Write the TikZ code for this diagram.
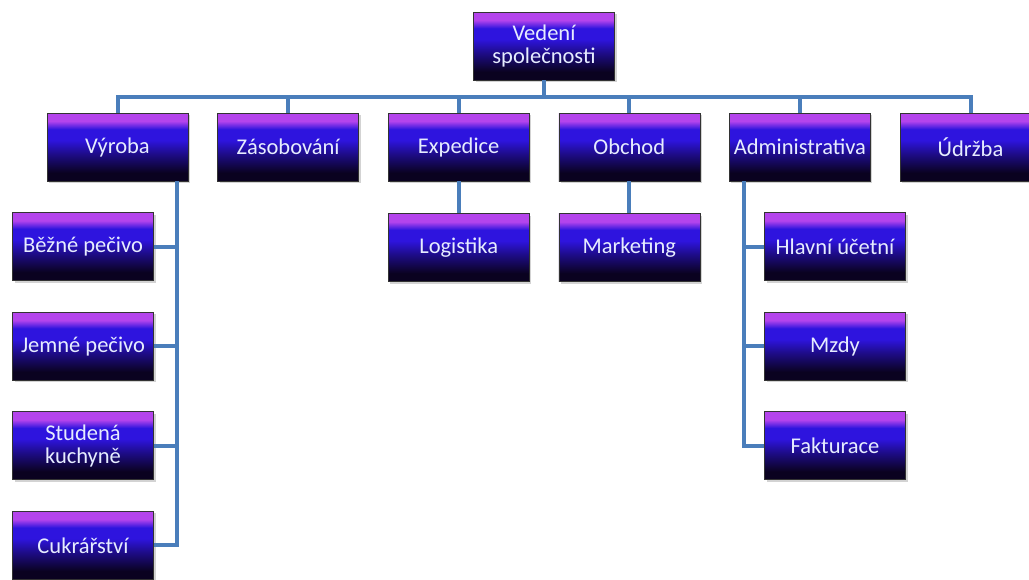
\documentclass[tikz,border=0pt]{standalone}
\usepackage{fontspec}
\setmainfont{Carlito}
\usetikzlibrary{positioning,shadows}
\definecolor{boxtop}{HTML}{B444EC}
\definecolor{boxmid}{HTML}{2E14DE}
\definecolor{boxbot}{HTML}{0A0220}
\definecolor{wireblue}{HTML}{4A7EBB}
\definecolor{labeltext}{HTML}{E6ECFF}
\pgfdeclareverticalshading{unitshade}{100bp}{color(0bp)=(boxbot); color(31bp)=(boxbot); color(45bp)=(boxmid!55!boxbot);
  color(55bp)=(boxmid); color(63bp)=(boxmid); color(69bp)=(boxtop); color(100bp)=(boxtop)}

\begin{document}
\begin{tikzpicture}[x=1pt, y=1pt, node distance=29pt,
    every node/.style={font=\fontsize{22.5}{23}\selectfont},
    unit/.style={draw=black!80, line width=0.6pt, shading=unitshade,
      text=labeltext, minimum width=141pt, minimum height=68pt, align=center, inner sep=2pt,
      drop shadow={opacity=0.35, shadow xshift=2pt, shadow yshift=-2pt}},
    wire/.style={draw=wireblue, line width=4pt}]
    \useasboundingbox (0,0) rectangle (1029,-579);
    % top and first level
    \node[unit] (ved) at (544,-46) {Vedení\\společnosti};
    \node[unit] (vyr) at (117.5,-147) {Výroba};
    \node[unit, right=of vyr] (zas) {Zásobování};
    \node[unit, right=of zas] (exp) {Expedice};
    \node[unit, right=of exp] (obc) {Obchod};
    \node[unit, right=of obc] (adm) {Administrativa};
    \node[unit, right=of adm] (udr) {Údržba};
    % second level
    \node[unit, below=32pt of exp] (log) {Logistika};
    \node[unit, below=32pt of obc] (mar) {Marketing};
    \node[unit] (bez) at (83,-246.5) {Běžné pečivo};
    \node[unit, below=31pt of bez] (jem) {Jemné pečivo};
    \node[unit, below=31pt of jem] (stu) {Studená\\kuchyně};
    \node[unit, below=31pt of stu] (cuk) {Cukrářství};
    \node[unit] (hla) at (835,-246.5) {Hlavní účetní};
    \node[unit, below=31pt of hla] (mzd) {Mzdy};
    \node[unit, below=31pt of mzd] (fak) {Fakturace};
    % connectors
    \coordinate (bus) at (544,-97);
    \draw[wire] (ved.south) -- (bus);
    \draw[wire] (vyr.north) |- (bus) -| (udr.north);
    \foreach \n in {zas,exp,obc,adm}
      \draw[wire] (\n.north) -- (\n.north |- bus);
    \draw[wire] (exp) -- (log);
    \draw[wire] (obc) -- (mar);
    \coordinate (vyrtrunk) at ([xshift=59pt]vyr.south);
    \draw[wire] (vyrtrunk) |- (cuk.east);
    \foreach \n in {bez,jem,stu}
      \draw[wire] (\n.east) -- (\n.east -| vyrtrunk);
    \coordinate (admtrunk) at ([xshift=-56pt]adm.south);
    \draw[wire] (admtrunk) |- (fak.west);
    \foreach \n in {hla,mzd}
      \draw[wire] (\n.west) -- (\n.west -| admtrunk);
  \end{tikzpicture}
\end{document}
